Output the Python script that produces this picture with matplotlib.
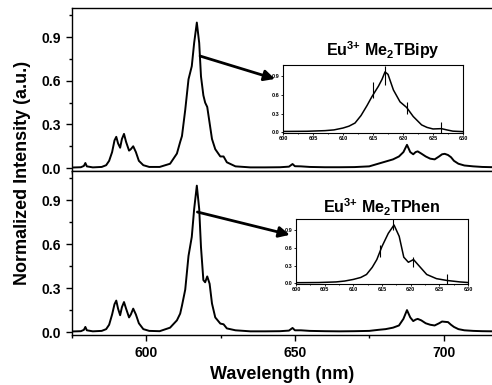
import matplotlib
matplotlib.use("Agg")
import matplotlib.pyplot as plt
from matplotlib.ticker import MultipleLocator

plt.rcParams['font.family'] = ['Liberation Sans', 'DejaVu Sans']
plt.rcParams['font.weight'] = 'bold'
plt.rcParams['mathtext.fontset'] = 'custom'
plt.rcParams['mathtext.rm'] = 'Liberation Sans:bold'
plt.rcParams['mathtext.bf'] = 'Liberation Sans:bold'
plt.rcParams['mathtext.default'] = 'bf'

# --- emission spectra ---
wl = [575, 578, 579, 579.5, 580, 582, 585, 586.5, 587.5, 588.5, 589.3, 589.9,
      590.5, 591.2, 591.8, 592.5, 593.2, 594.2, 594.8, 595.6, 596.5, 597.5,
      599, 601, 604.5, 608, 610.3, 611.4, 612, 613.1, 614.2, 615.3, 616.1,
      617, 617.8, 618.4, 619.2, 619.8, 620.5, 621.3, 622.1, 623.2, 624.9,
      626, 627.1, 630, 635, 640, 645, 648,
      649.2, 650, 652, 655, 660, 665, 670, 675, 678, 680.5, 683, 685, 686.5,
      687.7, 688.8, 689.8, 690.6, 691.3, 692.5, 694, 695.5, 697, 698.5, 699.5,
      700.4, 701.5, 702.5, 703.5, 705, 707, 710, 713, 717]

bipy = [0.004, 0.006, 0.015, 0.035, 0.012, 0.005, 0.008, 0.02, 0.05, 0.11, 0.19, 0.215,
        0.17, 0.14, 0.2, 0.235, 0.18, 0.12, 0.13, 0.15, 0.11, 0.05,
        0.02, 0.008, 0.008, 0.03, 0.1, 0.18, 0.22, 0.4, 0.61, 0.70, 0.86,
        1.0, 0.86, 0.63, 0.5, 0.45, 0.42, 0.31, 0.2, 0.13, 0.08,
        0.08, 0.04, 0.012, 0.005, 0.005, 0.006, 0.01,
        0.028, 0.013, 0.012, 0.008, 0.006, 0.006, 0.007, 0.012, 0.03, 0.045, 0.06, 0.08, 0.11,
        0.16, 0.11, 0.095, 0.11, 0.115, 0.1, 0.08, 0.065, 0.06, 0.08, 0.095,
        0.098, 0.09, 0.075, 0.05, 0.03, 0.018, 0.012, 0.008, 0.006]

phen = [0.004, 0.006, 0.015, 0.035, 0.012, 0.005, 0.008, 0.02, 0.05, 0.12, 0.19, 0.215,
        0.16, 0.115, 0.17, 0.205, 0.16, 0.1, 0.12, 0.16, 0.12, 0.06,
        0.02, 0.008, 0.006, 0.03, 0.08, 0.126, 0.18, 0.29, 0.52, 0.65, 0.84,
        1.0, 0.84, 0.58, 0.355, 0.34, 0.38, 0.33, 0.195, 0.1, 0.058,
        0.053, 0.025, 0.012, 0.005, 0.005, 0.006, 0.01,
        0.028, 0.012, 0.012, 0.008, 0.006, 0.005, 0.006, 0.008, 0.015, 0.02, 0.03, 0.045, 0.09,
        0.15, 0.1, 0.075, 0.085, 0.09, 0.08, 0.06, 0.05, 0.045, 0.06, 0.072,
        0.07, 0.068, 0.05, 0.035, 0.02, 0.012, 0.008, 0.006, 0.005]

# --- zoomed 5D0 -> 7F2 region (insets) ---
in_bipy_wl = [600, 604, 607, 608.5, 610, 611, 612, 613, 614, 614.8, 615.9, 616.5,
              617, 617.5, 618.4, 619.5, 620.6, 621.7, 623.1, 624, 625, 626.4,
              627.3, 628.3, 630]
in_bipy = [0.015, 0.018, 0.028, 0.04, 0.07, 0.1, 0.15, 0.27, 0.43, 0.57, 0.74, 0.85,
           0.97, 0.93, 0.68, 0.49, 0.4, 0.255, 0.12, 0.08, 0.055, 0.06,
           0.04, 0.02, 0.012]
in_bipy_marks = [615.0, 617.0, 620.7, 626.4]
in_bipy_lo = [0.55, 0.76, 0.30, -0.04]
in_bipy_hi = [0.80, 1.06, 0.49, 0.16]

in_phen_wl = [600, 604, 607, 608.5, 610, 611.3, 612.3, 613.3, 614.1, 615, 616.1,
              617.1, 618, 618.8, 619.6, 620.5, 621.6, 622.8, 624.5, 626.3, 628.6, 630]
in_phen = [0.012, 0.015, 0.025, 0.04, 0.067, 0.1, 0.15, 0.27, 0.4, 0.62, 0.84,
           0.98, 0.79, 0.44, 0.355, 0.4, 0.28, 0.15, 0.08, 0.05, 0.025, 0.015]
in_phen_marks = [614.7, 617.0, 620.4, 626.4]
in_phen_lo = [0.45, 0.90, 0.28, -0.02]
in_phen_hi = [0.65, 1.08, 0.45, 0.15]

titles = [r'Eu$^{3{+}}$ Me$_2$TBipy', r'Eu$^{3{+}}$ Me$_2$TPhen']

fig = plt.figure(figsize=(4.92, 3.85), dpi=100)
ax1 = fig.add_axes([0.1463, 0.5558, 0.8537, 0.4234])
ax2 = fig.add_axes([0.1463, 0.1299, 0.8537, 0.4259])

for ax, y in ((ax1, bipy), (ax2, phen)):
    ax.plot(wl, y, color='k', lw=1.4)
    ax.set_xlim(575, 716.3)
    ax.set_ylim(-0.02, 1.10)
    ax.xaxis.set_major_locator(MultipleLocator(50))
    ax.xaxis.set_minor_locator(MultipleLocator(25))
    ax.yaxis.set_major_locator(MultipleLocator(0.3))
    ax.yaxis.set_minor_locator(MultipleLocator(0.15))
    ax.yaxis.set_major_formatter(plt.FormatStrFormatter('%.1f'))
    ax.tick_params(which='major', direction='out', length=4.5, width=1, labelsize=10)
    ax.tick_params(which='minor', direction='out', length=2.5, width=1)
    ax.spines['right'].set_visible(False)
    for s in ax.spines.values():
        s.set_linewidth(1)
ax1.tick_params(axis='x', labelbottom=False)

ax2.set_xlabel('Wavelength (nm)', fontsize=13, fontweight='bold', labelpad=4)
fig.text(0.045, 0.55, 'Normalized Intensity (a.u.)', rotation=90, fontsize=13,
         fontweight='bold', ha='center', va='center')

# insets
in1 = fig.add_axes([0.5752, 0.6545, 0.3659, 0.1766])
in2 = fig.add_axes([0.6016, 0.2623, 0.3496, 0.1688])
for ax, x, y, mx, lo, hi in ((in1, in_bipy_wl, in_bipy, in_bipy_marks, in_bipy_lo, in_bipy_hi),
                             (in2, in_phen_wl, in_phen, in_phen_marks, in_phen_lo, in_phen_hi)):
    ax.plot(x, y, color='k', lw=1.1)
    ax.vlines(mx, lo, hi, color='k', lw=0.8)
    ax.set_xlim(600, 630)
    ax.set_ylim(-0.01, 1.08)
    ax.xaxis.set_major_locator(MultipleLocator(5))
    ax.xaxis.set_minor_locator(MultipleLocator(2.5))
    ax.yaxis.set_major_locator(MultipleLocator(0.3))
    ax.yaxis.set_major_formatter(plt.FormatStrFormatter('%.1f'))
    ax.tick_params(which='major', direction='out', length=1.5, width=0.6, labelsize=4, pad=1)
    ax.tick_params(which='minor', direction='out', length=1, width=0.6)
    for s in ax.spines.values():
        s.set_linewidth(0.8)

fig.text(0.778, 0.870, titles[0], fontsize=11.5, fontweight='bold', ha='center', va='center')
fig.text(0.775, 0.462, titles[1], fontsize=11.5, fontweight='bold', ha='center', va='center')

arrow = dict(arrowstyle='-|>', lw=2, color='k', mutation_scale=16, shrinkA=0, shrinkB=0)
ax1.annotate('', xy=(0.559, 0.795), xycoords='figure fraction',
             xytext=(618.1, 0.77), textcoords='data', arrowprops=arrow)
ax2.annotate('', xy=(0.589, 0.390), xycoords='figure fraction',
             xytext=(617.2, 0.82), textcoords='data', arrowprops=arrow)

fig.savefig('out.png', dpi=100)
